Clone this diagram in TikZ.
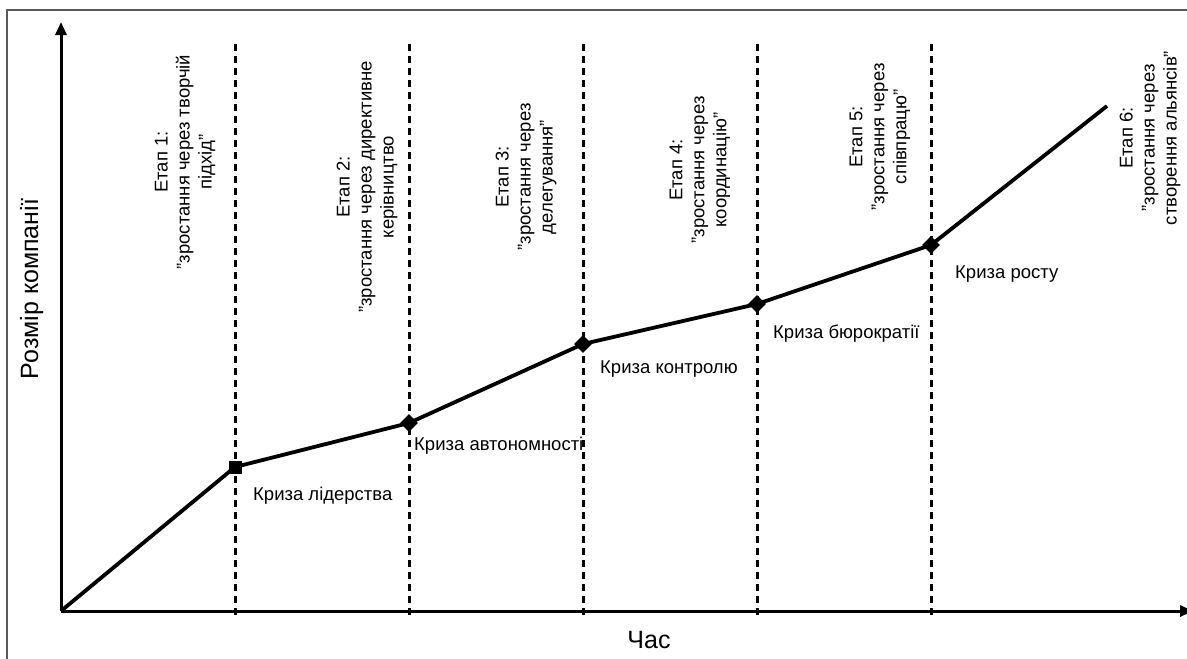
\documentclass[tikz,border=0pt]{standalone}
\usepackage{fontspec}
\setmainfont{Liberation Sans}
\usetikzlibrary{shapes.geometric,arrows.meta}
\begin{document}
\begin{tikzpicture}[x=1pt,y=-1pt,
  axis/.style={line width=3pt,-{Triangle[length=13pt,width=11pt]}},
  stagesep/.style={line width=3pt,dash pattern=on 7pt off 5pt},
  curve/.style={line width=3.8pt,line join=round},
  sqmark/.style={rectangle,fill=black,minimum size=13pt,inner sep=0pt},
  dmmark/.style={diamond,fill=black,minimum size=18pt,inner sep=0pt},
  stagelbl/.style={rotate=90,align=center,font=\fontsize{18.5}{22}\selectfont,inner sep=0pt},
  crisis/.style={anchor=base west,font=\fontsize{18.5}{22}\selectfont,inner sep=0pt},
  axislbl/.style={anchor=base,font=\fontsize{25}{30}\selectfont,inner sep=0pt}]
\useasboundingbox (0,0) rectangle (1187,659);
% frame
\draw[line width=2.2pt,color=black!65] (1187,10) -- (7,10) -- (7,659);
% axes
\coordinate (O) at (61,611);
\coordinate (ytip) at (61,22);
\coordinate (xtip) at (1193,611);
\draw[axis] (O) -- (ytip);
\draw[axis] (O) -- (xtip);
% stage separators
\foreach \i/\x in {1/235,2/409,3/583,4/757,5/931}{
  \coordinate (t\i) at (\x,44);
  \coordinate (b\i) at (\x,616);
  \draw[stagesep] (t\i) -- (b\i);
}
% curve points
\coordinate (p1) at (235,467);
\coordinate (p2) at (409,423);
\coordinate (p3) at (583,344);
\coordinate (p4) at (757,304);
\coordinate (p5) at (931,245);
\coordinate (p6) at (1107,106);
\draw[curve] (O) -- (p1) -- (p2) -- (p3) -- (p4) -- (p5) -- (p6);
\node[sqmark] (m1) at (p1) {};
\node[dmmark] (m2) at (p2) {};
\node[dmmark] (m3) at (p3) {};
\node[dmmark] (m4) at (p4) {};
\node[dmmark] (m5) at (p5) {};
% crisis labels
\node[crisis] (c1) at (253,500) {Криза лідерства};
\node[crisis] (c2) at (414,450) {Криза автономності};
\node[crisis] (c3) at (600,373) {Криза контролю};
\node[crisis] (c4) at (773,338) {Криза бюрократії};
\node[crisis] (c5) at (955,278) {Криза росту};
% stage labels
\node[stagelbl] (s1) at (185,162) {Етап 1:\\"зростання через творчій\\підхід"};
\node[stagelbl] (s2) at (367,187) {Етап 2:\\"зростання через директивне\\керівництво};
\node[stagelbl] (s3) at (526,177) {Етап 3:\\"зростання через\\делегування"};
\node[stagelbl] (s4) at (700,170) {Етап 4:\\"зростання через\\координацію"};
\node[stagelbl] (s5) at (880,137) {Етап 5:\\"зростання через\\співпрацю"};
\node[stagelbl] (s6) at (1150,138) {Етап 6:\\"зростання через\\створення альянсів"};
% axis labels
\node[axislbl,rotate=90] (ylab) at (38,289) {Розмір компанії};
\node[axislbl] (xlab) at (649,648) {Час};
\end{tikzpicture}
\end{document}
